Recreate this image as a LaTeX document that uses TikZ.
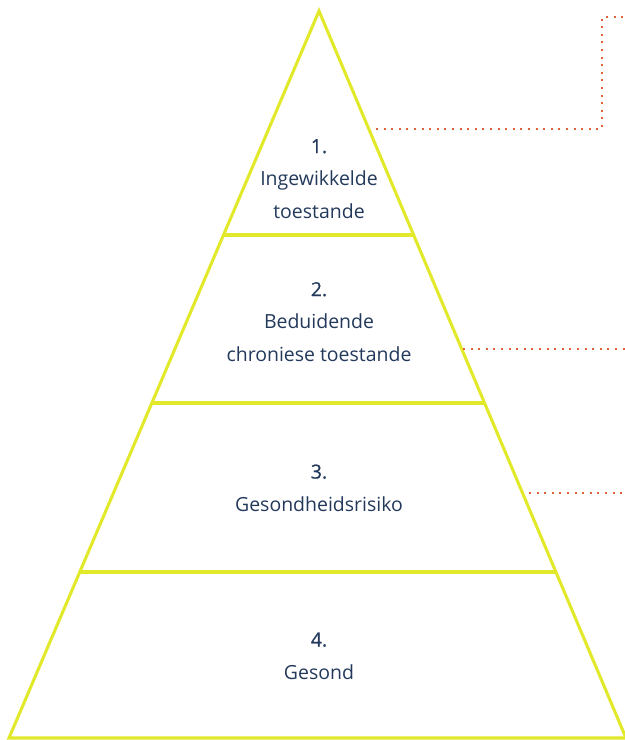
\documentclass[tikz,border=0pt]{standalone}
\usepackage{fontspec}
\setmainfont{Open Sans}
\definecolor{pyr}{HTML}{E2E82A}
\definecolor{dots}{HTML}{E0603A}
\definecolor{txt}{HTML}{23395B}
\newcommand{\numb}[1]{{\addfontfeature{FakeBold=0.6}#1}}
\begin{document}
\begin{tikzpicture}[x=0.75pt,y=-0.75pt,
  pyrline/.style={draw=pyr,line width=2.3pt,line join=miter},
  callout/.style={draw=dots,line width=1.5pt,dash pattern=on 1.5pt off 4.2pt},
  lbl/.style={text=txt,font=\fontsize{14.6}{24.6}\selectfont,align=center,inner sep=0pt}]
\useasboundingbox (0,0) rectangle (625,740);
% pyramid
\coordinate (apex) at (319,11);
\coordinate (bl) at (9,738);
\coordinate (br) at (626,738);
\draw[pyrline] (apex) -- (bl) -- (br) -- cycle;
\draw[pyrline] (223.5,235) -- (413.6,235);
\draw[pyrline] (152,403) -- (485,403);
\draw[pyrline] (80,572) -- (556,572);
% labels
\node[lbl] (t1) at (319,179) {\numb{1.}\\Ingewikkelde\\toestande};
\node[lbl] (t2) at (319,322) {\numb{2.}\\Beduidende\\chroniese toestande};
\node[lbl] (t3) at (319,488) {\numb{3.}\\Gesondheidsrisiko};
\node[lbl] (t4) at (319,656) {\numb{4.}\\Gesond};
% callouts
\coordinate (c1a) at (376,129);
\coordinate (c1b) at (602,129);
\coordinate (c1c) at (602,17);
\coordinate (c1d) at (626,17);
\draw[callout] (c1a) -- (c1b) -- (c1c) -- (c1d);
\coordinate (c2a) at (463,349);
\coordinate (c2b) at (626,349);
\draw[callout] (c2a) -- (c2b);
\coordinate (c3a) at (529,493);
\coordinate (c3b) at (626,493);
\draw[callout] (c3a) -- (c3b);
\end{tikzpicture}
\end{document}
